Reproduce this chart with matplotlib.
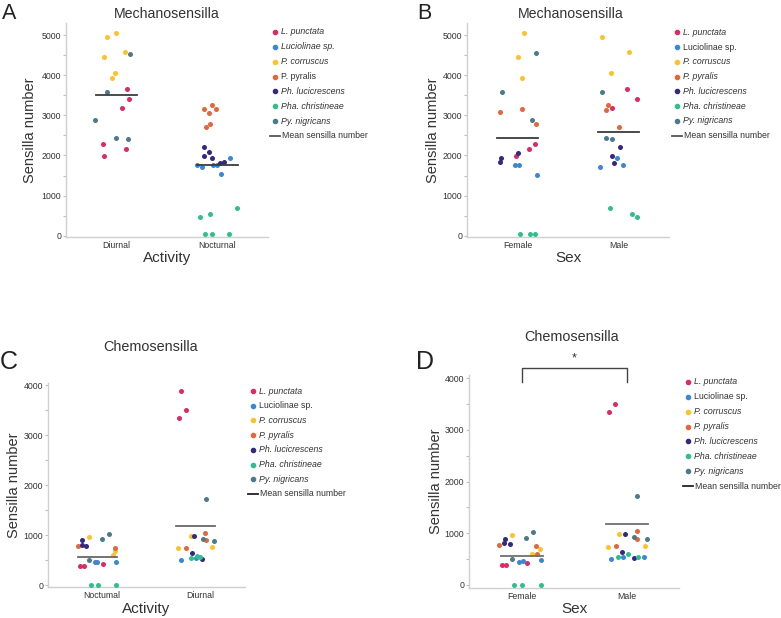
import matplotlib
matplotlib.use("Agg")
import matplotlib.pyplot as plt
from matplotlib.lines import Line2D
from matplotlib.transforms import ScaledTranslation

plt.rcParams['font.family'] = ['Liberation Sans', 'DejaVu Sans']

W, H = 781, 618

species = ["L. punctata", "Luciolinae sp.", "P. corruscus", "P. pyralis",
           "Ph. lucicrescens", "Pha. christineae", "Py. nigricans"]
codes = ["Lp", "Lu", "Pc", "Pp", "Phl", "Pha", "Py"]
colors = ["#DD2A62", "#3B87D4", "#FDC22A", "#E2673A", "#34287F", "#2FBF8E", "#4B7A8D"]

# A: mechanosensilla by activity
a_cats = ["Diurnal", "Nocturnal"]
a_sp = ["Pc"] * 6 + ["Py"] * 5 + ["Lp"] * 6 + ["Pp"] * 6 + ["Phl"] * 6 + ["Lu"] * 6 + ["Pha"] * 6
a_grp = [0] * 17 + [1] * 24
a_val = [4950, 5060, 4590, 4450, 4060, 3940,
         4540, 3575, 2895, 2445, 2405,
         3660, 3400, 3185, 2290, 2165, 1975,
         3270, 3150, 3150, 3070, 2785, 2710,
         2220, 2080, 1975, 1940, 1850, 1805,
         1930, 1765, 1710, 1775, 1765, 1535,
         700, 555, 475, 55, 55, 55]
a_jit = [-0.094, -0.005, 0.084, -0.124, -0.015, -0.045,
         0.134, -0.094, -0.213, -0.005, 0.114,
         0.104, 0.124, 0.054, -0.134, 0.094, -0.124,
         -0.051, -0.134, -0.015, -0.084, -0.074, -0.111,
         -0.131, -0.084, -0.131, -0.054, 0.061, 0.025,
         0.124, -0.2, -0.156, -0.045, -0.002, 0.035,
         0.19, -0.074, -0.17, -0.127, -0.054, 0.114]
a_means = [3510, 1765]

# B: mechanosensilla by sex
b_cats = ["Female", "Male"]
b_sp = (["Pc"] * 3 + ["Py"] * 3 + ["Pp"] * 3 + ["Lp"] * 3 + ["Phl"] * 3 + ["Lu"] * 3 + ["Pha"] * 3) * 2
b_grp = [0] * 21 + [1] * 21
b_val = [5060, 4445, 3940, 4545, 3575, 2885, 3075, 3150, 2785, 2290, 2155, 1975,
         2070, 1940, 1840, 1760, 1765, 1525, 55, 55, 55,
         4950, 4585, 4055, 3580, 2440, 2405, 3270, 3145, 2710, 3655, 3400, 3175,
         2215, 1975, 1805, 1930, 1760, 1710, 700, 555, 475]
b_jit = [0.061, 0.008, 0.042, 0.186, -0.153, 0.144, -0.176, 0.045, 0.18, 0.173, 0.114, -0.018,
         0.008, -0.163, -0.17, -0.028, 0.018, 0.19, 0.022, 0.124, 0.176,
         -0.163, 0.101, -0.074, -0.163, -0.127, -0.061, -0.104, -0.127, 0.005, 0.081, 0.183, -0.064,
         0.018, -0.067, -0.042, -0.018, 0.042, -0.183, -0.087, 0.134, 0.186]
b_means = [2430, 2585]

# C: chemosensilla by activity
c_cats = ["Noctumal", "Diurnal"]
c_sp = (["Pp"] * 2 + ["Phl"] * 3 + ["Pc"] * 3 + ["Py"] * 3 + ["Lu"] * 3 + ["Lp"] * 3 + ["Pha"] * 3
        + ["Lp"] * 3 + ["Py"] * 3 + ["Pc"] * 3 + ["Phl"] * 3 + ["Pp"] * 3 + ["Lu"] * 2 + ["Pha"] * 3)
c_grp = [0] * 20 + [1] * 20
c_val = [780, 752, 900, 812, 795, 970, 692, 600, 926, 1032, 500, 462, 472, 472, 392, 386, 420, 5, 5, 5,
         3886, 3506, 3353, 1720, 926, 886, 980, 746, 760, 986, 642, 526, 1052, 900, 750,
         496, 540, 552, 588, 560]
c_jit = [-0.2, 0.18, -0.152, -0.153, -0.111, -0.081, 0.177, 0.158, 0.048, 0.117, -0.083,
         -0.023, -0.005, 0.193, -0.178, -0.136, 0.061, -0.066, 0.006, 0.187,
         -0.15, -0.102, -0.17, 0.101, 0.072, 0.188, -0.048, -0.177, 0.17, -0.02, -0.038, 0.066,
         0.097, 0.101, -0.096, -0.145, 0.0, -0.048, 0.013, 0.048]
c_means = [566, 1186]

# D: chemosensilla by sex
d_cats = ["Female", "Male"]
d_sp = (["Pp"] * 3 + ["Phl"] * 3 + ["Pc"] * 3 + ["Py"] * 3 + ["Lu"] * 3 + ["Lp"] * 3 + ["Pha"] * 3
        + ["Lp"] * 2 + ["Py"] * 3 + ["Pp"] * 3 + ["Pc"] * 3 + ["Phl"] * 3 + ["Pha"] * 3 + ["Lu"] * 3)
d_grp = [0] * 21 + [1] * 20
d_val = [779, 748, 593, 889, 812, 798, 966, 690, 593, 914, 1030, 502, 444, 470, 477, 386, 380, 419, 0, 0, 0,
         3504, 3350, 1720, 921, 883, 1050, 895, 748, 980, 741, 754, 991, 638, 522,
         547, 593, 547, 535, 541, 497]
d_jit = [-0.21, 0.14, 0.152, -0.155, -0.162, -0.114, -0.086, 0.174, 0.098, 0.045, 0.114, -0.086,
         -0.026, 0.019, 0.19, -0.181, -0.143, 0.057, -0.07, 0.0, 0.181,
         -0.105, -0.169, 0.102, 0.076, 0.193, 0.098, 0.102, -0.098, -0.073, -0.178, 0.174,
         -0.019, -0.041, 0.067, -0.079, 0.019, 0.111, -0.029, 0.169, -0.143]
d_means = [567, 1185]

col_of = dict(zip(codes, colors))
text_col = "#333333"

fig = plt.figure(figsize=(W / 100, H / 100), dpi=100)


def px_axes(left, top, right, bottom):
    return fig.add_axes([left / W, 1 - bottom / H, (right - left) / W, (bottom - top) / H])


def strip(ax, cats, sp, grp, val, jit, means, mean_col, ylim, ymax_tick):
    for c in codes:
        xs = [g + j for s, g, j in zip(sp, grp, jit) if s == c]
        ys = [v for s, v in zip(sp, val) if s == c]
        ax.scatter(xs, ys, s=13, color=col_of[c], linewidths=0, zorder=3, clip_on=False)
    for i, m in enumerate(means):
        ax.plot([i - 0.2, i + 0.2], [m, m], color=mean_col, lw=1.3, zorder=4)
    ax.set_xlim(-0.5, 1.5)
    ax.set_ylim(*ylim)
    ax.set_xticks(range(len(cats)))
    ax.set_xticklabels(cats)
    ax.set_yticks(range(0, ymax_tick + 1, 1000))
    ax.set_yticks(range(500, ymax_tick, 1000), minor=True)
    for s in ["top", "right"]:
        ax.spines[s].set_visible(False)
    for s in ["left", "bottom"]:
        ax.spines[s].set_color("#cfcfcf")
        ax.spines[s].set_linewidth(1.0)
    ax.tick_params(axis="y", which="both", length=2, width=0.8, color="#bdbdbd",
                   labelsize=6.3, labelcolor=text_col, pad=1.5)
    ax.tick_params(axis="x", length=0, labelsize=6.3, labelcolor=text_col, pad=3)


def legend(x, y0, dy, italics, line_col):
    for i, (name, c, it) in enumerate(zip(species, colors, italics)):
        y = y0 + i * dy
        fig.add_artist(Line2D([x / W], [1 - y / H], marker="o", markersize=3, color=c,
                              lw=0, transform=fig.transFigure))
        fig.text((x + 6) / W, 1 - y / H, name, fontsize=6.3, color=text_col,
                 style="italic" if it else "normal", va="center", ha="left")
    y = y0 + 7 * dy
    fig.add_artist(Line2D([(x - 5) / W, (x + 5) / W], [1 - y / H, 1 - y / H], color=line_col,
                          lw=1.3, transform=fig.transFigure))
    fig.text((x + 7) / W, 1 - y / H, "Mean sensilla number", fontsize=6.3, color=text_col,
             va="center", ha="left")


def labels(ax, xlabel, ylabel, ylab_x, xlab_y):
    ax.set_xlabel(xlabel, fontsize=11, color=text_col)
    ax.set_ylabel(ylabel, fontsize=10.5, color=text_col)
    ax.xaxis.set_label_coords(0.5, xlab_y)
    ax.xaxis.label.set_va("center")
    ax.yaxis.set_label_coords(ylab_x, 0.5)
    ax.yaxis.label.set_va("center")


def ftext(x, y, s, **kw):
    fig.text(x / W, 1 - y / H, s, color=kw.pop("color", text_col), **kw)


# Panel A
axA = px_axes(66, 23, 268, 237)
strip(axA, a_cats, a_sp, a_grp, a_val, a_jit, a_means, "#3c3c3c", (-30, 5300), 5000)
labels(axA, "Activity", "Sensilla number", -0.178, -0.098)
ftext(167, 14, "Mechanosensilla", fontsize=10.2, ha="center", va="center")
ftext(2, 3, "A", fontsize=15.5, ha="left", va="top", color="#222222")
legend(275, 32, 14.85, [True, True, True, False, True, True, True], "#555555")

# Panel B
axB = px_axes(467, 23, 669, 237)
strip(axB, b_cats, b_sp, b_grp, b_val, b_jit, b_means, "#3c3c3c", (-30, 5300), 5000)
labels(axB, "Sex", "Sensilla number", -0.168, -0.098)
ftext(571, 14, "Mechanosensilla", fontsize=10.2, ha="center", va="center")
ftext(417, 3, "B", fontsize=15.5, ha="left", va="top", color="#222222")
legend(677, 32.3, 14.77, [True, False, True, True, True, True, True], "#555555")

# Panel C
axC = px_axes(48, 383, 245, 587)
strip(axC, c_cats, c_sp, c_grp, c_val, c_jit, c_means, "#686868", (-35, 4045), 4000)
labels(axC, "Activity", "Sensilla number", -0.173, -0.108)
# category labels in the original sit a little right of the strips
for lab in axC.get_xticklabels():
    lab.set_transform(lab.get_transform() + ScaledTranslation(0.045, 0, fig.dpi_scale_trans))
ftext(151, 347, "Chemosensilla", fontsize=10.4, ha="center", va="center")
ftext(0, 350, "C", fontsize=18, ha="left", va="top", color="#222222")
legend(253, 391, 14.7, [True, False, True, True, True, True, True], "#222222")

# Panel D
axD = px_axes(469, 375, 679, 588)
strip(axD, d_cats, d_sp, d_grp, d_val, d_jit, d_means, "#707070", (-58, 4058), 4000)
labels(axD, "Sex", "Sensilla number", -0.155, -0.1)
ftext(572, 337, "Chemosensilla", fontsize=10.4, ha="center", va="center")
ftext(416, 350, "D", fontsize=18, ha="left", va="top", color="#222222")
legend(688, 382, 14.86, [True, False, True, True, True, True, True], "#222222")

# significance bracket
axD.plot([0, 0, 1, 1], [3923, 4193, 4193, 3923], color="#444444", lw=1.0, clip_on=False)
axD.text(0.5, 4260, "*", ha="center", va="bottom", fontsize=9, color=text_col)

fig.savefig("out.png", dpi=100)
